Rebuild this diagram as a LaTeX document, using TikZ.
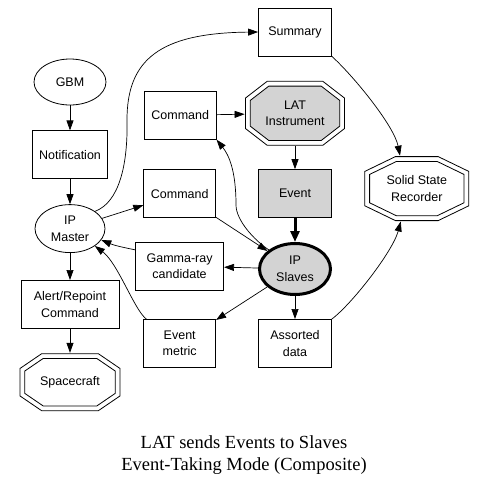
\documentclass[tikz,border=0pt]{standalone}
\usepackage{fontspec}
\setmainfont{Liberation Sans}
\newfontfamily\titlefont{Liberation Serif}
\usepackage{tikz}
\usetikzlibrary{arrows.meta,positioning,shapes.geometric}
\definecolor{ltgray}{HTML}{D3D3D3}
% one octagon inside the node box: #1 inset, #2 x cut, #3 y cut, #4 options
\newcommand\octring[4]{%
  \pgfmathsetmacro\octL{veclen(#2,#3)}%
  \pgfmathsetmacro\octp{#1+#2-#1+#1*(\octL-#2)/#3}%
  \pgfmathsetmacro\octq{#1+#3-#1+#1*(\octL-#3)/#2}%
  \path[#4]
    ([shift={(\octp pt,-#1pt)}]path picture bounding box.north west) --
    ([shift={(-\octp pt,-#1pt)}]path picture bounding box.north east) --
    ([shift={(-#1pt,-\octq pt)}]path picture bounding box.north east) --
    ([shift={(-#1pt,\octq pt)}]path picture bounding box.south east) --
    ([shift={(-\octp pt,#1pt)}]path picture bounding box.south east) --
    ([shift={(\octp pt,#1pt)}]path picture bounding box.south west) --
    ([shift={(#1pt,\octq pt)}]path picture bounding box.south west) --
    ([shift={(#1pt,-\octq pt)}]path picture bounding box.north west) -- cycle;}
\tikzset{
  box/.style={draw, line width=0.8pt, minimum width=72pt, minimum height=48pt,
              inner sep=1pt, align=center, font=\fontsize{12.5}{16.5}\selectfont},
  oval/.style={box, ellipse},
  octnode/.style n args={3}{box, draw=none, path picture={
      \octring{0.5}{#1}{#2}{draw, line width=0.8pt}
      \octring{5.3}{#1}{#2}{draw, line width=0.8pt, fill=#3}}},
  slavenode/.style={oval, line width=3pt, fill=ltgray, minimum width=71pt,
                    minimum height=51pt},
  arrow/.style={-{Triangle[length=10pt,width=7pt]}, line width=0.7pt},
  boldarrow/.style={-{Triangle[length=11pt,width=9pt]}, line width=3pt}
}
\begin{document}
\begin{tikzpicture}[x=1pt, y=1pt, node distance=24pt and 28pt]
  \useasboundingbox (0,0) rectangle (487,-488);
  % left column
  \node[oval, minimum height=46pt] (gbm) at (70,-82) {GBM};
  \node[box, below=25pt of gbm, minimum width=75pt] (notif) {Notification};
  \node[oval, below=25pt of notif, minimum width=70pt] (ipm) {IP\\Master};
  \node[box, below=27pt of ipm, minimum width=98pt] (alert) {Alert/Repoint\\Command};
  \node[octnode={22}{15}{white}, below=of alert, minimum width=101pt,
        minimum height=58pt] (craft) {Spacecraft};

  % right column
  \node[box, minimum width=73pt] (summ) at (295,-32) {Summary};
  \node[octnode={22}{17}{ltgray}, below=of summ, minimum width=100pt,
        minimum height=65pt] (lat) {LAT\\Instrument};
  \node[box, below=23pt of lat, fill=ltgray, minimum width=73pt] (event) {Event};
  \node[slavenode, below=of event] (slaves) {IP\\Slaves};
  \node[box, below=23pt of slaves, minimum width=73pt] (assort) {Assorted\\data};
  \node[octnode={31}{15}{white}, right=32pt of event, yshift=5pt, minimum width=105pt,
        minimum height=65pt] (ssr) {Solid State\\Recorder};

  % middle column
  \node[box, left=of lat, yshift=-2pt] (cmd1) {Command};
  \node[box, left=42pt of event] (cmd2) {Command};
  \node[box, left=34pt of slaves, minimum width=88pt, yshift=3pt] (gamma) {Gamma-ray\\candidate};
  \node[box, left=42pt of assort, minimum width=72pt] (metric) {Event\\metric};

  \node[font=\titlefont\fontsize{18.5}{21.5}\selectfont, align=center] (title)
    at (244,-455) {LAT sends Events to Slaves\\Event-Taking Mode (Composite)};

  \draw[arrow] (gbm) -- (notif);
  \draw[arrow] (notif) -- (ipm);
  \draw[arrow] (ipm) -- (alert);
  \draw[arrow] (alert) -- (craft);
  \draw[arrow] (ipm) -- (cmd2);
  \draw[arrow] (ipm.north east) .. controls +(24,9) and +(1,-45) .. (127,-120)
    .. controls +(0,60) and +(-99,-1) .. (summ.west);
  \draw[arrow] (cmd1) -- (lat);
  \draw[arrow] (lat) -- (event);
  \draw[boldarrow] (event) -- (slaves);
  \draw[arrow] (cmd2) -- (slaves);
  \draw[arrow] (slaves.north west) .. controls +(-15,10) and +(0,-15) .. (236,-205)
    .. controls +(0,35) and +(12,-15) .. (cmd1.south east);
  \draw[arrow] (slaves) -- (gamma);
  \draw[arrow] (gamma.160) .. controls +(-15,3) and +(12,-5) .. (ipm.-20);
  \draw[arrow] ([xshift=3pt]metric.north west) .. controls +(-12,9) and +(23,-17) .. (ipm.-35);
  \draw[arrow] (slaves) -- (metric);
  \draw[arrow] (slaves) -- (assort);
  \draw[arrow] (summ.south east) .. controls +(22,-20) and +(-6,30) .. (ssr.117);
  \draw[arrow] (assort.north east) .. controls +(20,15) and +(-8,-30) .. (ssr.-116);
\end{tikzpicture}
\end{document}
